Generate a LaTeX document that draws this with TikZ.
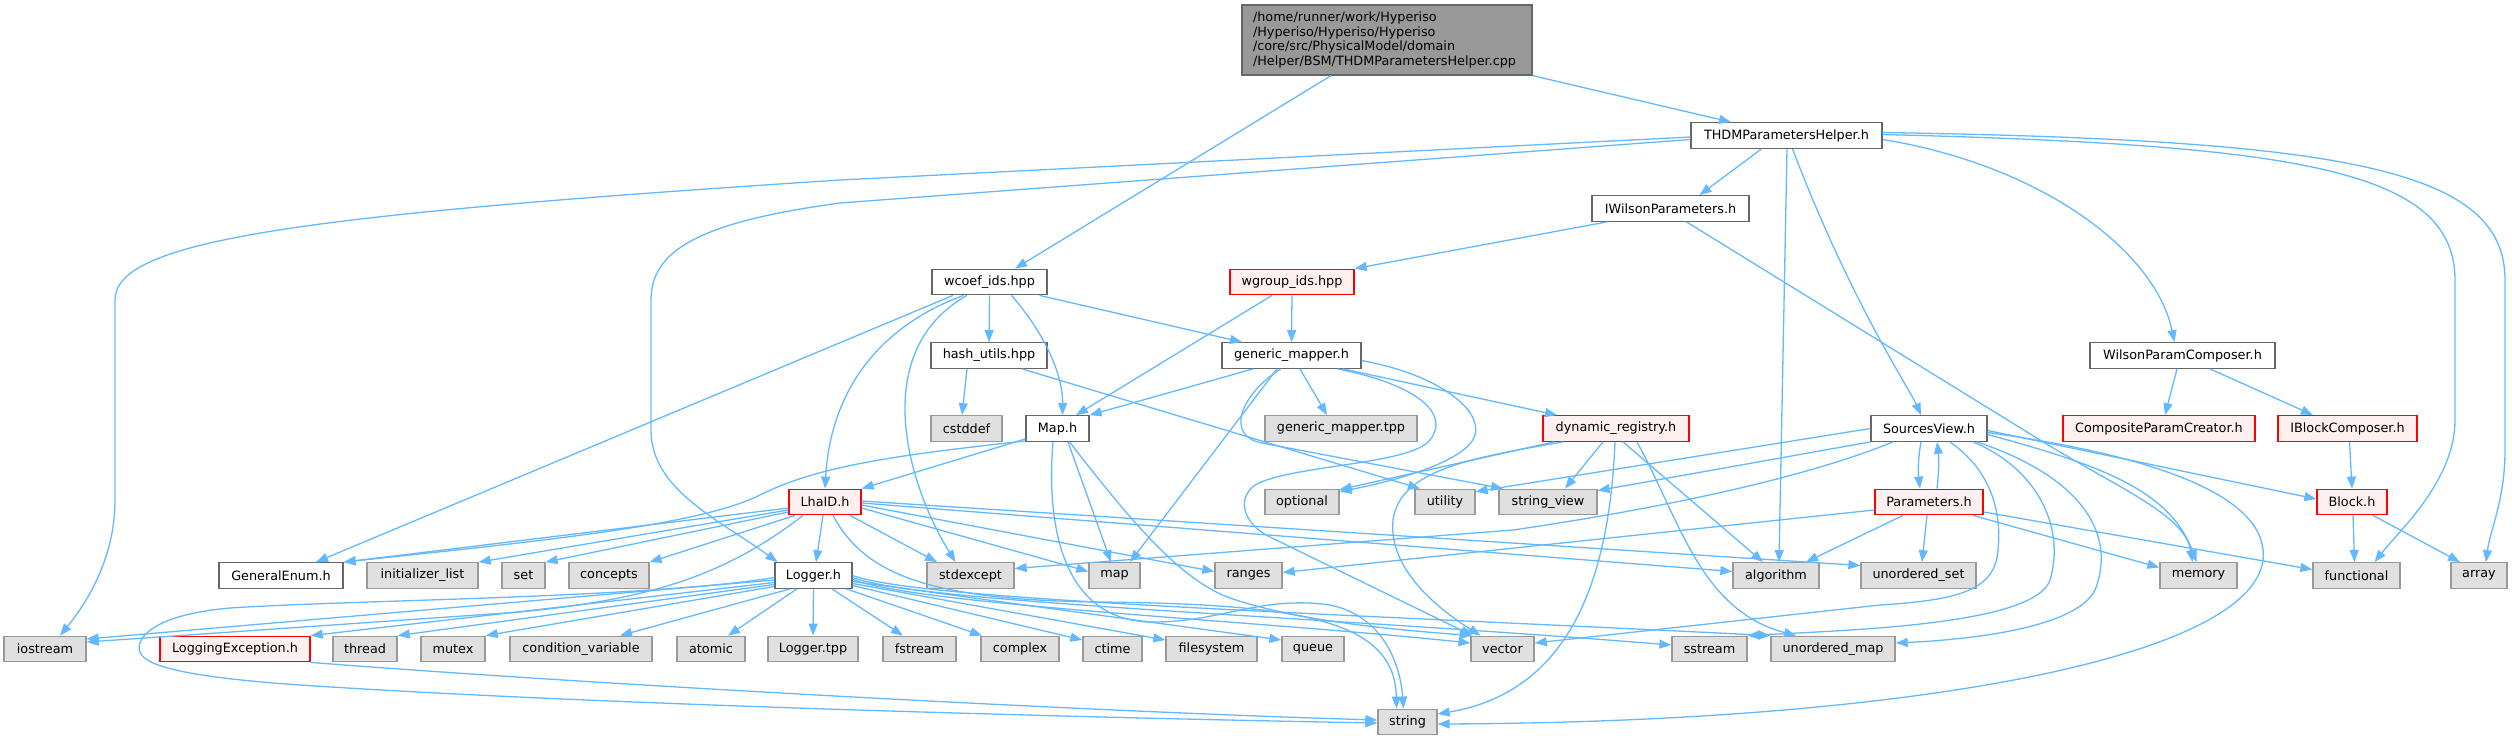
\documentclass[tikz,border=0pt]{standalone}
\usepackage{fontspec}
\setmainfont{DejaVu Sans}
\usetikzlibrary{arrows.meta}
\definecolor{cedge}{HTML}{63B8FF}
\definecolor{cnd}{HTML}{666666}
\definecolor{csysd}{HTML}{999999}
\definecolor{csysf}{HTML}{E0E0E0}
\definecolor{ctrd}{HTML}{FF0000}
\definecolor{ctrf}{HTML}{FFF0F0}
\definecolor{cmainf}{HTML}{999999}
\newcommand\gfont{\fontsize{12.8pt}{14.7pt}\selectfont}
\begin{document}
\begin{tikzpicture}[x=1pt,y=-1pt,
 nd/.style={draw=cnd, fill=white, line width=1.3pt, minimum height=25.5pt, inner sep=0pt, font=\gfont, text=black},
 sys/.style={nd, draw=csysd, fill=csysf},
 trunc/.style={nd, draw=ctrd, fill=ctrf},
 e/.style={draw=cedge, line width=1.3pt, -{Triangle[length=12pt,width=9pt]}}]
\useasboundingbox (0,0) rectangle (2512,740);
% nodes
\node[nd, fill=cmainf, minimum height=70pt, text width=268pt, inner xsep=11pt, align=left] (main) at (1387,40) {/home/runner/work/Hyperiso\\/Hyperiso/Hyperiso/Hyperiso\\/core/src/PhysicalModel/domain\\/Helper/BSM/THDMParametersHelper.cpp};
\node[nd, minimum width=191pt] (thdm) at (1786.5,135.5) {THDMParametersHelper.h};
\node[nd, minimum width=157pt] (iwilson) at (1670.5,208.5) {IWilsonParameters.h};
\node[nd, minimum width=115pt] (wcoef) at (989.5,282) {wcoef\_ids.hpp};
\node[trunc, minimum width=124pt] (wgroup) at (1292,282) {wgroup\_ids.hpp};
\node[nd, minimum width=116pt] (hash) at (989,355.5) {hash\_utils.hpp};
\node[nd, minimum width=139pt] (genmap) at (1291.5,355.5) {generic\_mapper.h};
\node[nd, minimum width=185pt] (wpc) at (2182.5,355.5) {WilsonParamComposer.h};
\node[sys, minimum width=71pt] (cstddef) at (966.5,428.5) {cstddef};
\node[nd, minimum width=63pt] (maph) at (1057.5,428.5) {Map.h};
\node[sys, minimum width=152pt] (gmtpp) at (1341,428.5) {generic\_mapper.tpp};
\node[trunc, minimum width=146pt] (dynreg) at (1616,428.5) {dynamic\_registry.h};
\node[nd, minimum width=116pt] (sview) at (1929,428.5) {SourcesView.h};
\node[trunc, minimum width=192pt] (cpc) at (2159,428.5) {CompositeParamCreator.h};
\node[trunc, minimum width=139pt] (ibc) at (2347.5,428.5) {IBlockComposer.h};
\node[trunc, minimum width=72pt] (lhaid) at (825,502) {LhaID.h};
\node[sys, minimum width=74pt] (optional) at (1302,502) {optional};
\node[sys, minimum width=60pt] (utility) at (1445,502) {utility};
\node[sys, minimum width=98pt] (strview) at (1548,502) {string\_view};
\node[trunc, minimum width=108pt] (params) at (1929,502) {Parameters.h};
\node[trunc, minimum width=70pt] (block) at (2352,502) {Block.h};
\node[nd, minimum width=124pt] (genenum) at (281,575.5) {GeneralEnum.h};
\node[sys, minimum width=111pt] (initl) at (422.5,575.5) {initializer\_list};
\node[sys, minimum width=43pt] (set) at (523.5,575.5) {set};
\node[sys, minimum width=80pt] (concepts) at (609,575.5) {concepts};
\node[nd, minimum width=77pt] (logger) at (813.5,575.5) {Logger.h};
\node[sys, minimum width=87pt] (stdexcept) at (970.5,575.5) {stdexcept};
\node[sys, minimum width=51pt] (map) at (1114.5,575.5) {map};
\node[sys, minimum width=67pt] (ranges) at (1248.5,575.5) {ranges};
\node[sys, minimum width=86pt] (algorithm) at (1776,575.5) {algorithm};
\node[sys, minimum width=115pt] (uset) at (1918.5,575.5) {unordered\_set};
\node[sys, minimum width=77pt] (memory) at (2198.5,575.5) {memory};
\node[sys, minimum width=87pt] (functional) at (2356.5,575.5) {functional};
\node[sys, minimum width=56pt] (array) at (2479,575.5) {array};
\node[sys, minimum width=82pt] (iostream) at (45,649) {iostream};
\node[trunc, minimum width=150pt] (logexc) at (235,649) {LoggingException.h};
\node[sys, minimum width=64pt] (thread) at (365,649) {thread};
\node[sys, minimum width=64pt] (mutex) at (453,649) {mutex};
\node[sys, minimum width=142pt] (condvar) at (581,649) {condition\_variable};
\node[sys, minimum width=68pt] (atomic) at (711,649) {atomic};
\node[sys, minimum width=90pt] (loggertpp) at (813,649) {Logger.tpp};
\node[sys, minimum width=73pt] (fstream) at (919.5,649) {fstream};
\node[sys, minimum width=78pt] (complex) at (1020,649) {complex};
\node[sys, minimum width=59pt] (ctime) at (1112.5,649) {ctime};
\node[sys, minimum width=91pt] (filesystem) at (1211.5,649) {filesystem};
\node[sys, minimum width=62pt] (queue) at (1313,649) {queue};
\node[sys, minimum width=63pt] (vector) at (1502.5,649) {vector};
\node[sys, minimum width=75pt] (sstream) at (1709.5,649) {sstream};
\node[sys, minimum width=124pt] (umap) at (1833,649) {unordered\_map};
\node[sys, minimum width=59pt] (string) at (1407.5,722) {string};
% main
\draw[e] ([xshift=-56pt]main.south) -- ([xshift=25.5pt]wcoef.north);
\draw[e] (main.south east) -- ([xshift=-55.5pt]thdm.north);
% THDM
\draw[e] ([yshift=-1.5pt]thdm.west) -- (840,180) .. controls (300,215) and (115,240) .. (115,300) -- (115,500) .. controls (115,560) and (85,605) .. ([xshift=15pt]iostream.north);
\draw[e] ([yshift=-4pt]thdm.west) -- (840,203) .. controls (700,222) and (651,250) .. (651,300) -- (651,430) .. controls (651,490) and (720,520) .. ([xshift=-36pt]logger.north);
\draw[e] ([xshift=-25pt]thdm.south) -- ([xshift=29pt]iwilson.north);
\draw[e] ([xshift=0.5pt]thdm.south) -- ([xshift=3pt]algorithm.north);
\draw[e] ([xshift=6pt]thdm.south) .. controls (1850,300) and (1910,390) .. ([xshift=-8pt]sview.north);
\draw[e] ([yshift=-4pt]thdm.east) .. controls (2040,165) and (2155,250) .. ([xshift=-8pt]wpc.north);
\draw[e] ([yshift=1pt]thdm.east) .. controls (2300,145) and (2455,170) .. (2455,280) -- (2455,420) .. controls (2455,480) and (2400,530) .. ([xshift=18pt]functional.north);
\draw[e] ([yshift=3pt]thdm.east) .. controls (2350,140) and (2505,170) .. (2505,280) -- (2505,450) .. controls (2505,500) and (2490,530) .. ([xshift=7pt]array.north);
% IWilson
\draw[e] ([xshift=-63.5pt]iwilson.south) -- (wgroup.north east);
\draw[e] ([xshift=16pt]iwilson.south) -- (2040,440) .. controls (2120,489) and (2185,515) .. ([xshift=-6pt]memory.north);
% wcoef
\draw[e] (wcoef.south) -- (hash.north);
\draw[e] ([xshift=50pt]wcoef.south) -- ([xshift=-49.5pt]genmap.north);
\draw[e] ([xshift=22pt]wcoef.south) .. controls (1050,340) and (1063,380) .. ([xshift=5pt]maph.north);
\draw[e] ([xshift=-26pt]wcoef.south) .. controls (870,330) and (830,400) .. (lhaid.north);
\draw[e] ([xshift=-36.5pt]wcoef.south) -- ([xshift=35pt]genenum.north);
\draw[e] ([xshift=-22.5pt]wcoef.south) .. controls (870,350) and (905,480) .. ([xshift=-15pt]stdexcept.north);
% wgroup
\draw[e] (wgroup.south) -- (genmap.north);
\draw[e] ([xshift=-20pt]wgroup.south) -- ([xshift=18.5pt]maph.north);
% WilsonParamComposer
\draw[e] ([xshift=-5.5pt]wpc.south) -- ([xshift=6pt]cpc.north);
\draw[e] ([xshift=27.5pt]wpc.south) -- ([xshift=-34.5pt]ibc.north);
% hash
\draw[e] ([xshift=-22pt]hash.south) -- ([xshift=-4.5pt]cstddef.north);
\draw[e] ([xshift=33pt]hash.south) -- ([xshift=-25pt]utility.north);
% generic_mapper
\draw[e] ([xshift=-38.5pt]genmap.south) -- (maph.north east);
\draw[e] ([xshift=-14.5pt]genmap.south) -- ([xshift=15.5pt]map.north);
\draw[e] ([xshift=-11pt]genmap.south) .. controls (1240,395) and (1225,436) .. (1262,443) -- ([xshift=-45pt]strview.north);
\draw[e] ([xshift=8.5pt]genmap.south) -- ([xshift=-14pt]gmtpp.north);
\draw[e] ([xshift=51.5pt]genmap.south) -- ([xshift=-59pt]dynreg.north);
\draw[e] ([yshift=-5pt]genmap.east) .. controls (1440,375) and (1482,410) .. (1475,435) .. controls (1468,460) and (1400,480) .. ([yshift=-3pt]optional.north east);
\draw[e] ([xshift=46pt]genmap.south) .. controls (1420,385) and (1450,415) .. (1430,440) .. controls (1410,465) and (1290,465) .. (1255,485) .. controls (1235,500) and (1245,525) .. (1270,537) -- ([xshift=-30pt]vector.north);
% dynamic_registry
\draw[e] ([xshift=-62pt]dynreg.south) -- ([yshift=-1pt]optional.north east);
\draw[e] ([xshift=-53pt]dynreg.south) .. controls (1470,458) and (1400,470) .. (1393,520) .. controls (1388,570) and (1440,610) .. ([xshift=-22pt]vector.north);
\draw[e] ([xshift=-13pt]dynreg.south) -- ([xshift=17pt]strview.north);
\draw[e] ([xshift=-1pt]dynreg.south) .. controls (1610,560) and (1580,690) .. ([yshift=8pt]string.east);
\draw[e] ([xshift=7pt]dynreg.south) -- ([xshift=-13pt]algorithm.north);
\draw[e] ([xshift=21pt]dynreg.south) .. controls (1680,520) and (1700,610) .. ([xshift=-37pt]umap.north);
% Map.h
\draw[e] ([yshift=3pt]maph.south west) -- (lhaid.north east);
\draw[e] ([yshift=1pt]maph.south west) .. controls (900,455) and (820,465) .. (760,495) .. controls (700,525) and (550,540) .. (genenum.north east);
\draw[e] ([xshift=10.5pt]maph.south) -- ([xshift=-3.5pt]map.north);
\draw[e] ([xshift=-4.5pt]maph.south) .. controls (1045,540) and (1070,620) .. (1150,622) .. controls (1220,623) and (1260,595) .. (1330,605) .. controls (1380,615) and (1400,660) .. ([xshift=-4pt]string.north);
\draw[e] ([xshift=12pt]maph.south) .. controls (1130,520) and (1180,580) .. (1230,598) .. controls (1300,622) and (1400,630) .. ([xshift=-31pt]vector.north);
% LhaID
\draw[e] ([yshift=-6pt]lhaid.west) -- (genenum.north east);
\draw[e] ([yshift=-8pt]lhaid.west) -- (initl.north east);
\draw[e] ([yshift=-10pt]lhaid.west) -- (set.north east);
\draw[e] ([xshift=-30pt]lhaid.south) -- (concepts.north east);
\draw[e] ([xshift=-2pt]lhaid.south) -- ([xshift=2.5pt]logger.north);
\draw[e] ([xshift=25pt]lhaid.south) -- ([xshift=-33.5pt]stdexcept.north);
\draw[e] ([yshift=-6pt]lhaid.east) -- ([yshift=4pt]map.west);
\draw[e] ([yshift=-3pt]lhaid.east) -- ([yshift=4pt]ranges.west);
\draw[e] ([yshift=-1pt]lhaid.east) -- ([yshift=4pt]algorithm.west);
\draw[e] ([yshift=1pt]lhaid.east) -- ([yshift=10pt]uset.west);
\draw[e] ([xshift=-22pt]lhaid.south) .. controls (720,580) and (640,600) .. (520,612) -- ([yshift=7pt]iostream.east);
\draw[e] ([xshift=8pt]lhaid.south) .. controls (865,575) and (930,600) .. (1100,602) .. controls (1300,604) and (1395,620) .. ([xshift=-11pt]string.north);
% Logger
\draw[e] ([yshift=-4.5pt]logger.west) -- ([yshift=10pt]iostream.east);
\draw[e] ([yshift=-7pt]logger.west) -- (logexc.north east);
\draw[e] ([yshift=-9pt]logger.west) -- (thread.north east);
\draw[e] ([yshift=-11pt]logger.west) -- (mutex.north east);
\draw[e] ([xshift=-23.5pt]logger.south) -- ([xshift=39pt]condvar.north);
\draw[e] ([xshift=-16.5pt]logger.south) -- ([xshift=17pt]atomic.north);
\draw[e] (logger.south) -- (loggertpp.north);
\draw[e] ([xshift=18.5pt]logger.south) -- ([xshift=-16.5pt]fstream.north);
\draw[e] ([xshift=33pt]logger.south) -- ([xshift=-38pt]complex.north);
\draw[e] ([yshift=-10pt]logger.east) -- ([yshift=9pt]ctime.west);
\draw[e] ([yshift=-8pt]logger.east) -- ([yshift=9pt]filesystem.west);
\draw[e] ([yshift=-6pt]logger.east) -- ([yshift=9pt]queue.west);
\draw[e] ([yshift=-4pt]logger.east) .. controls (920,605) and (1250,620) .. ([yshift=6pt]vector.west);
\draw[e] ([yshift=-2pt]logger.east) .. controls (920,603) and (1300,615) .. ([yshift=4pt]sstream.west);
\draw[e] (logger.east) .. controls (920,600) and (1300,612) .. (umap.north west);
\draw[e] ([yshift=-2pt]logger.west) .. controls (650,598) and (350,600) .. (230,608) .. controls (150,615) and (135,640) .. (140,652) .. controls (145,668) and (200,678) .. (300,685) .. controls (600,705) and (1100,718) .. ([yshift=-1pt]string.west);
\draw[e] (logexc.south east) .. controls (600,685) and (1100,712) .. ([yshift=2pt]string.west);
% SourcesView
\draw[e] (sview.west) -- ([yshift=-3pt]utility.north east);
\draw[e] (sview.south west) -- ([yshift=-2pt]strview.north east);
\draw[e] ([xshift=-36pt]sview.south) .. controls (1800,480) and (1650,510) .. (1513,530) -- ([yshift=7pt]stdexcept.east);
\draw[e] ([xshift=-8pt]sview.south) .. controls (1918,458) and (1918,472) .. ([xshift=-9pt]params.north);
\draw[e] ([xshift=8pt]params.north) .. controls (1939,472) and (1939,458) .. ([xshift=8pt]sview.south);
\draw[e] ([xshift=21pt]sview.south) .. controls (1990,470) and (2002,510) .. (1998,550) .. controls (1995,590) and (1960,600) .. (1880,605) -- ([yshift=6pt]vector.east);
\draw[e] ([xshift=44pt]sview.south) .. controls (2040,470) and (2065,530) .. (2050,580) .. controls (2035,625) and (1850,630) .. (sstream.north east);
\draw[e] ([xshift=48pt]sview.south) .. controls (2090,480) and (2115,540) .. (2095,590) .. controls (2075,630) and (1960,640) .. ([yshift=6pt]umap.east);
\draw[e] ([yshift=-6pt]sview.east) .. controls (2100,465) and (2170,490) .. ([xshift=-2pt]memory.north);
\draw[e] ([yshift=-2pt]sview.east) -- ([yshift=3pt]block.west);
\draw[e] ([yshift=-4pt]sview.east) .. controls (2150,455) and (2270,495) .. (2263,560) .. controls (2250,660) and (1900,722) .. ([yshift=-2pt]string.east);
% Parameters
\draw[e] ([xshift=-26pt]params.south) -- ([xshift=30pt]algorithm.north);
\draw[e] ([xshift=-2pt]params.south) -- ([xshift=3.5pt]uset.north);
\draw[e] ([xshift=44pt]params.south) -- ([yshift=8pt]memory.west);
\draw[e] ([yshift=-10pt]params.east) -- ([yshift=6pt]functional.west);
\draw[e] ([yshift=-8pt]params.west) -- ([yshift=3pt]ranges.east);
% Block
\draw[e] ([xshift=1pt]block.south) -- ([xshift=-2pt]functional.north);
\draw[e] ([xshift=21pt]block.south) -- ([xshift=-19pt]array.north);
\draw[e] ([xshift=2pt]ibc.south) -- (block.north);
\end{tikzpicture}
\end{document}
